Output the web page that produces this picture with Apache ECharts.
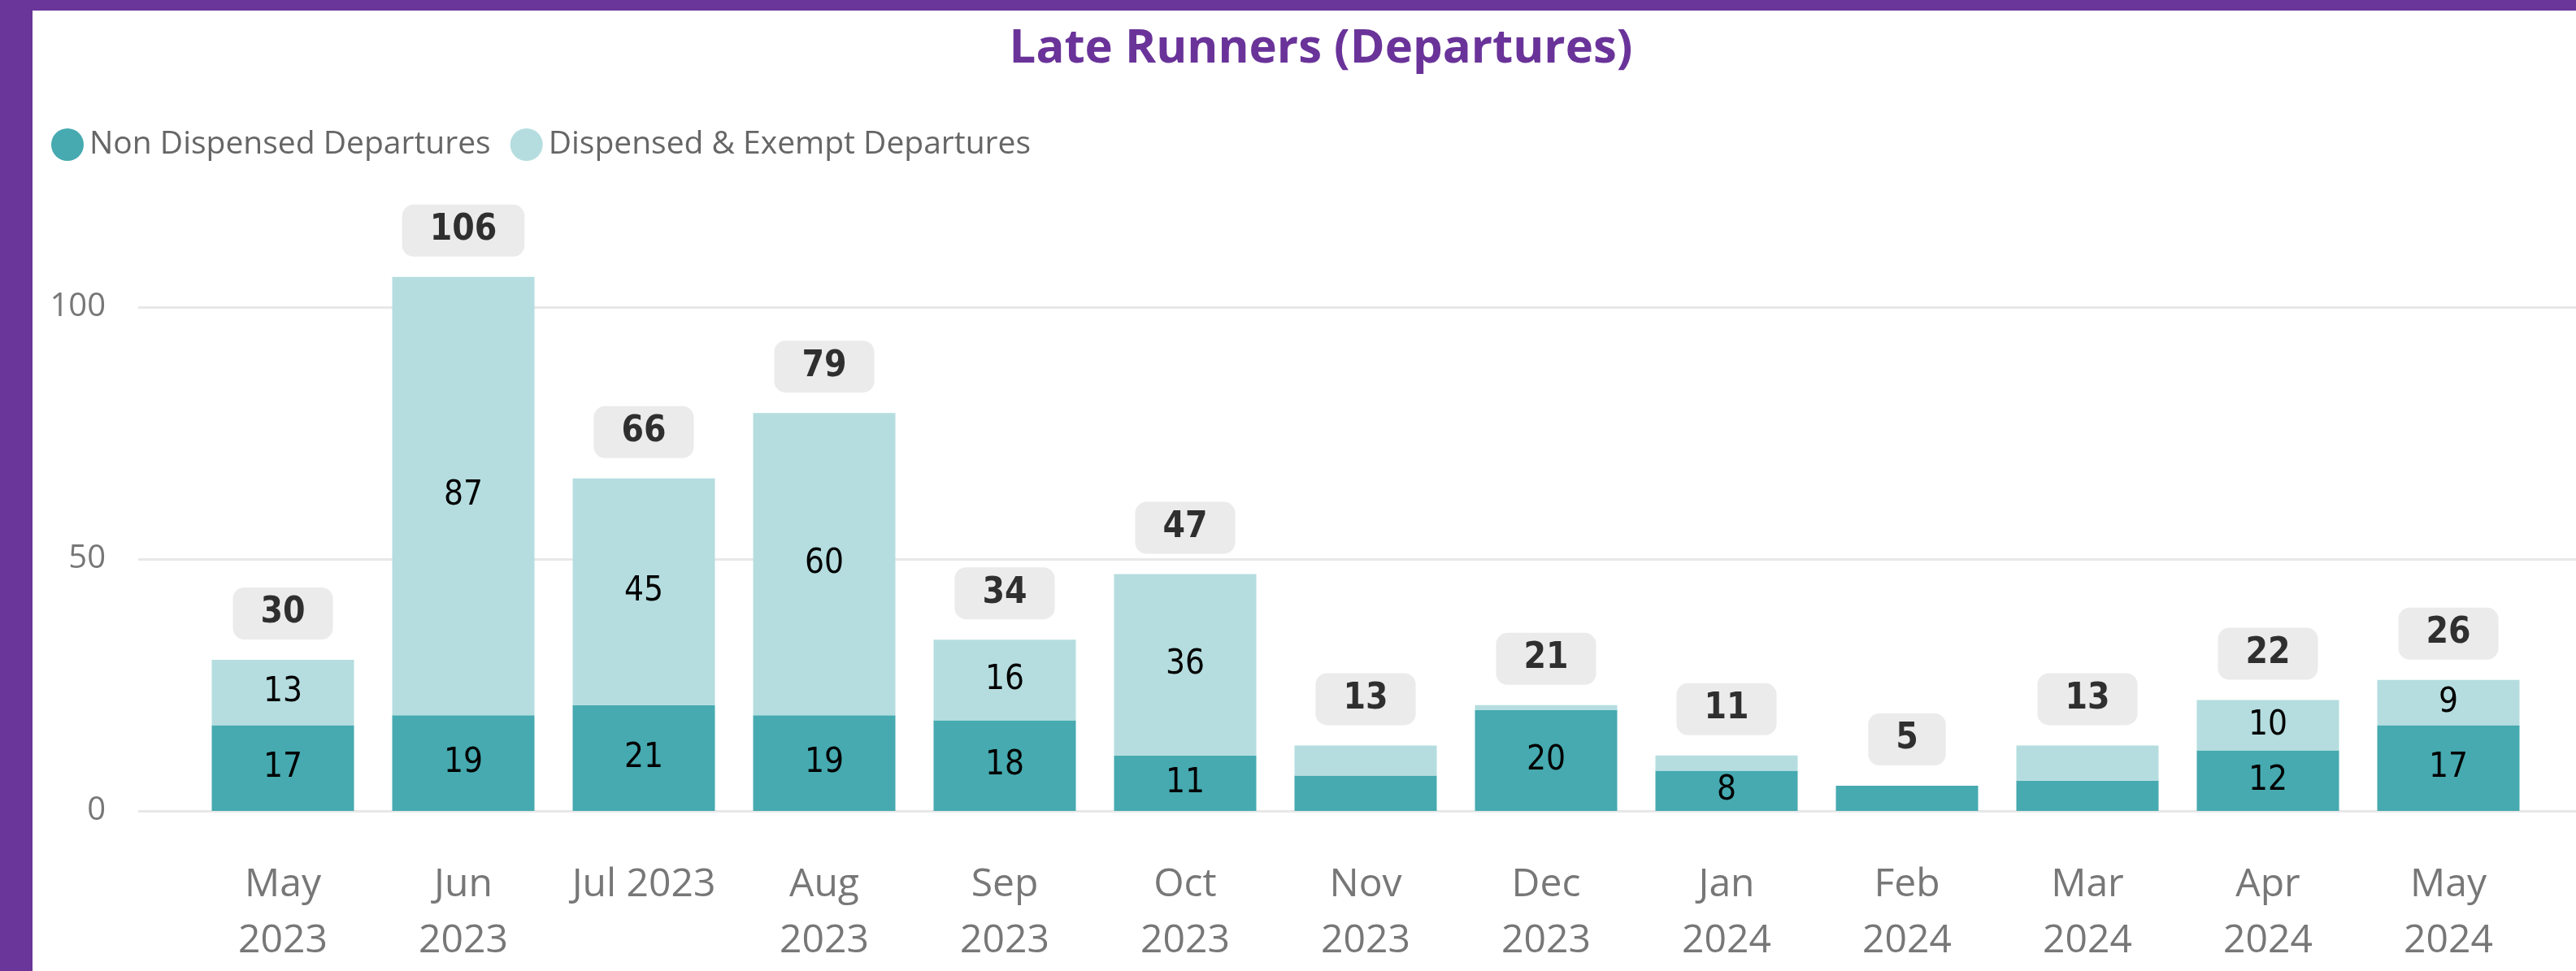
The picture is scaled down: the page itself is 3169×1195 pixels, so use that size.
<!DOCTYPE html>
<html>
<head>
<meta charset="utf-8">
<title>Late Runners (Departures)</title>
<script src="https://cdn.jsdelivr.net/npm/echarts@6/dist/echarts.min.js"></script>
<style>
    html, body { margin: 0; padding: 0; background: #fff; }
    #chart { position: absolute; left: 0; top: 0; width: 3169px; height: 1195px; }
    .edge-top { position: absolute; left: 0; top: 0; width: 3169px; height: 13px; background: #6A3699; }
    .edge-left { position: absolute; left: 0; top: 0; width: 40px; height: 1195px; background: #6A3699; }
</style>
</head>
<body>
<div id="chart"></div>
<div class="edge-top"></div>
<div class="edge-left"></div>
<script>
// 月份（x轴标签）
const months = ['May\n2023', 'Jun\n2023', 'Jul 2023', 'Aug\n2023', 'Sep\n2023', 'Oct\n2023', 'Nov\n2023',
    'Dec\n2023', 'Jan\n2024', 'Feb\n2024', 'Mar\n2024', 'Apr\n2024', 'May\n2024']
// 两个堆叠系列
const nonDispensed = [17, 19, 21, 19, 18, 11, 7, 20, 8, 5, 6, 12, 17]
const dispensed = [13, 87, 45, 60, 16, 36, 6, 1, 3, 0, 7, 10, 9]
// 柱顶合计
const totals = [30, 106, 66, 79, 34, 47, 13, 21, 11, 5, 13, 22, 26]
// y轴刻度
const yTicks = [0, 50, 100]

const DARK = '#46AAB0'
const LIGHT = '#B5DDE0'
const LABEL_FONT = "'Liberation Sans Narrow', 'DejaVu Sans Condensed', 'Roboto', sans-serif"
const UI_FONT = "'Open Sans', 'Noto Sans', sans-serif"

// 放不下的数值不显示
function innerLabel(p) {
    return p.value >= 8 ? String(p.value) : ''
}

const myChart = echarts.init(document.getElementById('chart'))

const option = {
    animation: false,
    backgroundColor: 'transparent',
    graphic: [{
        type: 'text',
        x: 1625,
        y: 60,
        style: {
            text: 'Late Runners (Departures)',
            fill: '#6A3399',
            font: "bold 58px 'Open Sans', 'Noto Sans', sans-serif",
            textAlign: 'center',
            textVerticalAlign: 'middle'
        }
    }],
    legend: {
        data: ['Non Dispensed Departures', 'Dispensed & Exempt Departures'],
        left: 58,
        top: 153,
        icon: 'circle',
        itemWidth: 40,
        itemHeight: 40,
        itemGap: 24,
        textStyle: {
            color: '#666666',
            fontSize: 39,
            fontFamily: UI_FONT,
            padding: [0, 0, 0, 2]
        }
    },
    grid: [
        // 柱子
        { left: 237, right: 46, top: 254, bottom: 197 },
        // 网格线及y轴标签（整宽）
        { left: 170, right: 0, top: 378, bottom: 197 }
    ],
    xAxis: [{
        type: 'category',
        gridIndex: 0,
        data: months,
        axisLine: { show: false },
        axisTick: { show: false },
        axisLabel: {
            color: '#777777',
            fontSize: 48,
            lineHeight: 69,
            fontFamily: UI_FONT,
            margin: 57,
            interval: 0
        }
    }, {
        type: 'value',
        gridIndex: 1,
        show: false
    }],
    yAxis: [{
        type: 'value',
        gridIndex: 0,
        min: 0,
        max: 120,
        show: false
    }, {
        type: 'value',
        gridIndex: 1,
        min: yTicks[0],
        max: yTicks[yTicks.length - 1],
        interval: 50,
        axisLine: { show: false },
        axisTick: { show: false },
        axisLabel: {
            color: '#777777',
            fontSize: 40,
            fontFamily: UI_FONT,
            margin: 40
        },
        splitLine: {
            lineStyle: { color: '#E8E8E8', width: 3 }
        }
    }],
    series: [{
        name: 'Non Dispensed Departures',
        type: 'bar',
        stack: 'dep',
        xAxisIndex: 0,
        yAxisIndex: 0,
        barWidth: 175,
        data: nonDispensed,
        itemStyle: { color: DARK },
        label: {
            show: true,
            position: 'inside',
            formatter: innerLabel,
            color: '#000',
            fontSize: 42,
            fontFamily: LABEL_FONT
        }
    }, {
        name: 'Dispensed & Exempt Departures',
        type: 'bar',
        stack: 'dep',
        xAxisIndex: 0,
        yAxisIndex: 0,
        barWidth: 175,
        data: dispensed,
        itemStyle: { color: LIGHT },
        label: {
            show: true,
            position: 'inside',
            formatter: innerLabel,
            color: '#000',
            fontSize: 42,
            fontFamily: LABEL_FONT
        }
    }, {
        name: 'Total',
        type: 'scatter',
        xAxisIndex: 0,
        yAxisIndex: 0,
        data: totals,
        symbolSize: 2,
        itemStyle: { color: 'rgba(0,0,0,0)' },
        silent: true,
        label: {
            show: true,
            position: 'top',
            distance: 24,
            color: '#000',
            fontSize: 44,
            fontWeight: 'bold',
            fontFamily: LABEL_FONT,
            lineHeight: 44,
            backgroundColor: '#E6E6E6',
            borderRadius: 14,
            padding: [10, 34, 10, 34]
        }
    }]
}

myChart.setOption(option)
window.addEventListener('resize', function () {
    myChart.resize()
})
</script>
</body>
</html>
